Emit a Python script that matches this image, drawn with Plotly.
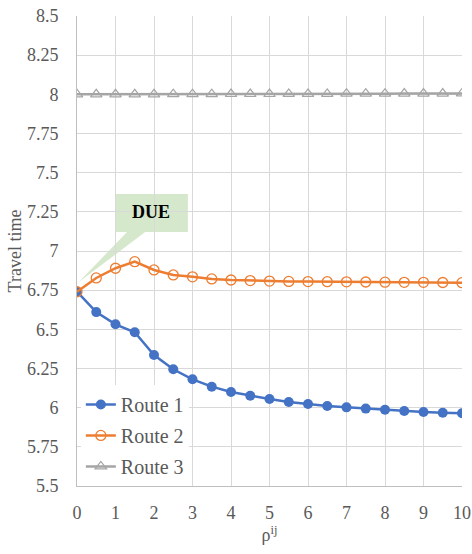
import plotly.graph_objects as go

rho = [0, 0.5, 1, 1.5, 2, 2.5, 3, 3.5, 4, 4.5, 5, 5.5, 6, 6.5, 7, 7.5, 8, 8.5, 9, 9.5, 10]
route1 = [6.74, 6.61, 6.532, 6.481, 6.336, 6.245, 6.181, 6.134, 6.10, 6.076, 6.055, 6.036,
          6.023, 6.011, 6.002, 5.994, 5.987, 5.979, 5.972, 5.968, 5.964]
route2 = [6.74, 6.828, 6.89, 6.932, 6.879, 6.847, 6.835, 6.822, 6.815, 6.811, 6.808, 6.806,
          6.805, 6.804, 6.803, 6.802, 6.801, 6.800, 6.800, 6.799, 6.798]
route3 = [8.0, 8.0, 8.0, 8.0, 8.0, 8.001, 8.001, 8.001, 8.002, 8.002, 8.002, 8.003,
          8.003, 8.003, 8.004, 8.004, 8.004, 8.005, 8.005, 8.005, 8.006]
names = ["Route 1", "Route 2", "Route 3"]
colors = ["#4472C4", "#ED7D31", "#A5A5A5"]

FONT = "Liberation Serif"

fig = go.Figure()
fig.add_trace(go.Scatter(x=rho, y=route1, name=names[0], mode="lines+markers", legendgroup="a",
                         line=dict(color=colors[0], width=2.5),
                         marker=dict(symbol="circle", size=10, color=colors[0])))
fig.add_trace(go.Scatter(x=rho, y=route2, name=names[1], mode="lines+markers", legendgroup="b",
                         line=dict(color=colors[1], width=2.5),
                         marker=dict(symbol="circle-open", size=10, color=colors[1],
                                     line=dict(width=1.3))))
fig.add_trace(go.Scatter(x=rho, y=route3, name=names[2], mode="lines+markers", legendgroup="c",
                         line=dict(color=colors[2], width=2.5),
                         marker=dict(symbol="triangle-up-open", size=10, color=colors[2],
                                     line=dict(width=1.2))))

# DUE callout
fig.add_shape(type="path", xref="x", yref="y",
              path="M 0.99 7.364 L 2.88 7.364 L 2.88 7.121 L 1.77 7.121 L 0.04 6.80 L 1.30 7.121 L 0.99 7.121 Z",
              fillcolor="#d5e8cb", line=dict(width=0), layer="below")
fig.add_annotation(x=1.93, y=7.25, xref="x", yref="y", text="<b>DUE</b>", showarrow=False,
                   font=dict(family=FONT, size=18, color="black"))

fig.update_layout(
    width=472, height=554,
    margin=dict(l=77, r=10, t=16, b=68, autoexpand=False),
    paper_bgcolor="white", plot_bgcolor="white",
    font=dict(family=FONT, size=18, color="#595959"),
    showlegend=True,
    legend=dict(x=0.01, y=0.215, xanchor="left", yanchor="top",
                bgcolor="white", font=dict(family=FONT, size=20, color="#595959"),
                traceorder="grouped", tracegroupgap=2, itemwidth=30),
)
fig.update_xaxes(range=[0, 10], dtick=1, showgrid=True, gridcolor="#d9d9d9", gridwidth=1,
                 showline=True, linecolor="#bfbfbf", linewidth=1, zeroline=False,
                 ticks="", ticklabelstandoff=10, automargin=False, ticklabeloverflow="allow",
                 tickfont=dict(family=FONT, size=18, color="#595959"),
                 title=dict(text="ρ<sup>ij</sup>", font=dict(family=FONT, size=18, color="#595959"),
                            standoff=6))
fig.update_yaxes(range=[5.5, 8.5], tickvals=[5.5, 5.75, 6, 6.25, 6.5, 6.75, 7, 7.25, 7.5, 7.75, 8, 8.25, 8.5],
                 ticktext=["5.5", "5.75", "6", "6.25", "6.5", "6.75", "7", "7.25", "7.5", "7.75", "8", "8.25", "8.5"],
                 showgrid=True, gridcolor="#d9d9d9", gridwidth=1,
                 showline=True, linecolor="#bfbfbf", linewidth=1, zeroline=False,
                 ticks="", ticklabelstandoff=14, automargin=False, ticklabeloverflow="allow",
                 tickfont=dict(family=FONT, size=18, color="#595959"),
                 title=dict(text="Travel time", font=dict(family=FONT, size=18, color="#595959"),
                            standoff=0))

fig.write_html("out.html", config={"displayModeBar": False},
               post_script="document.body.style.margin='0';document.body.style.overflow='hidden';")
